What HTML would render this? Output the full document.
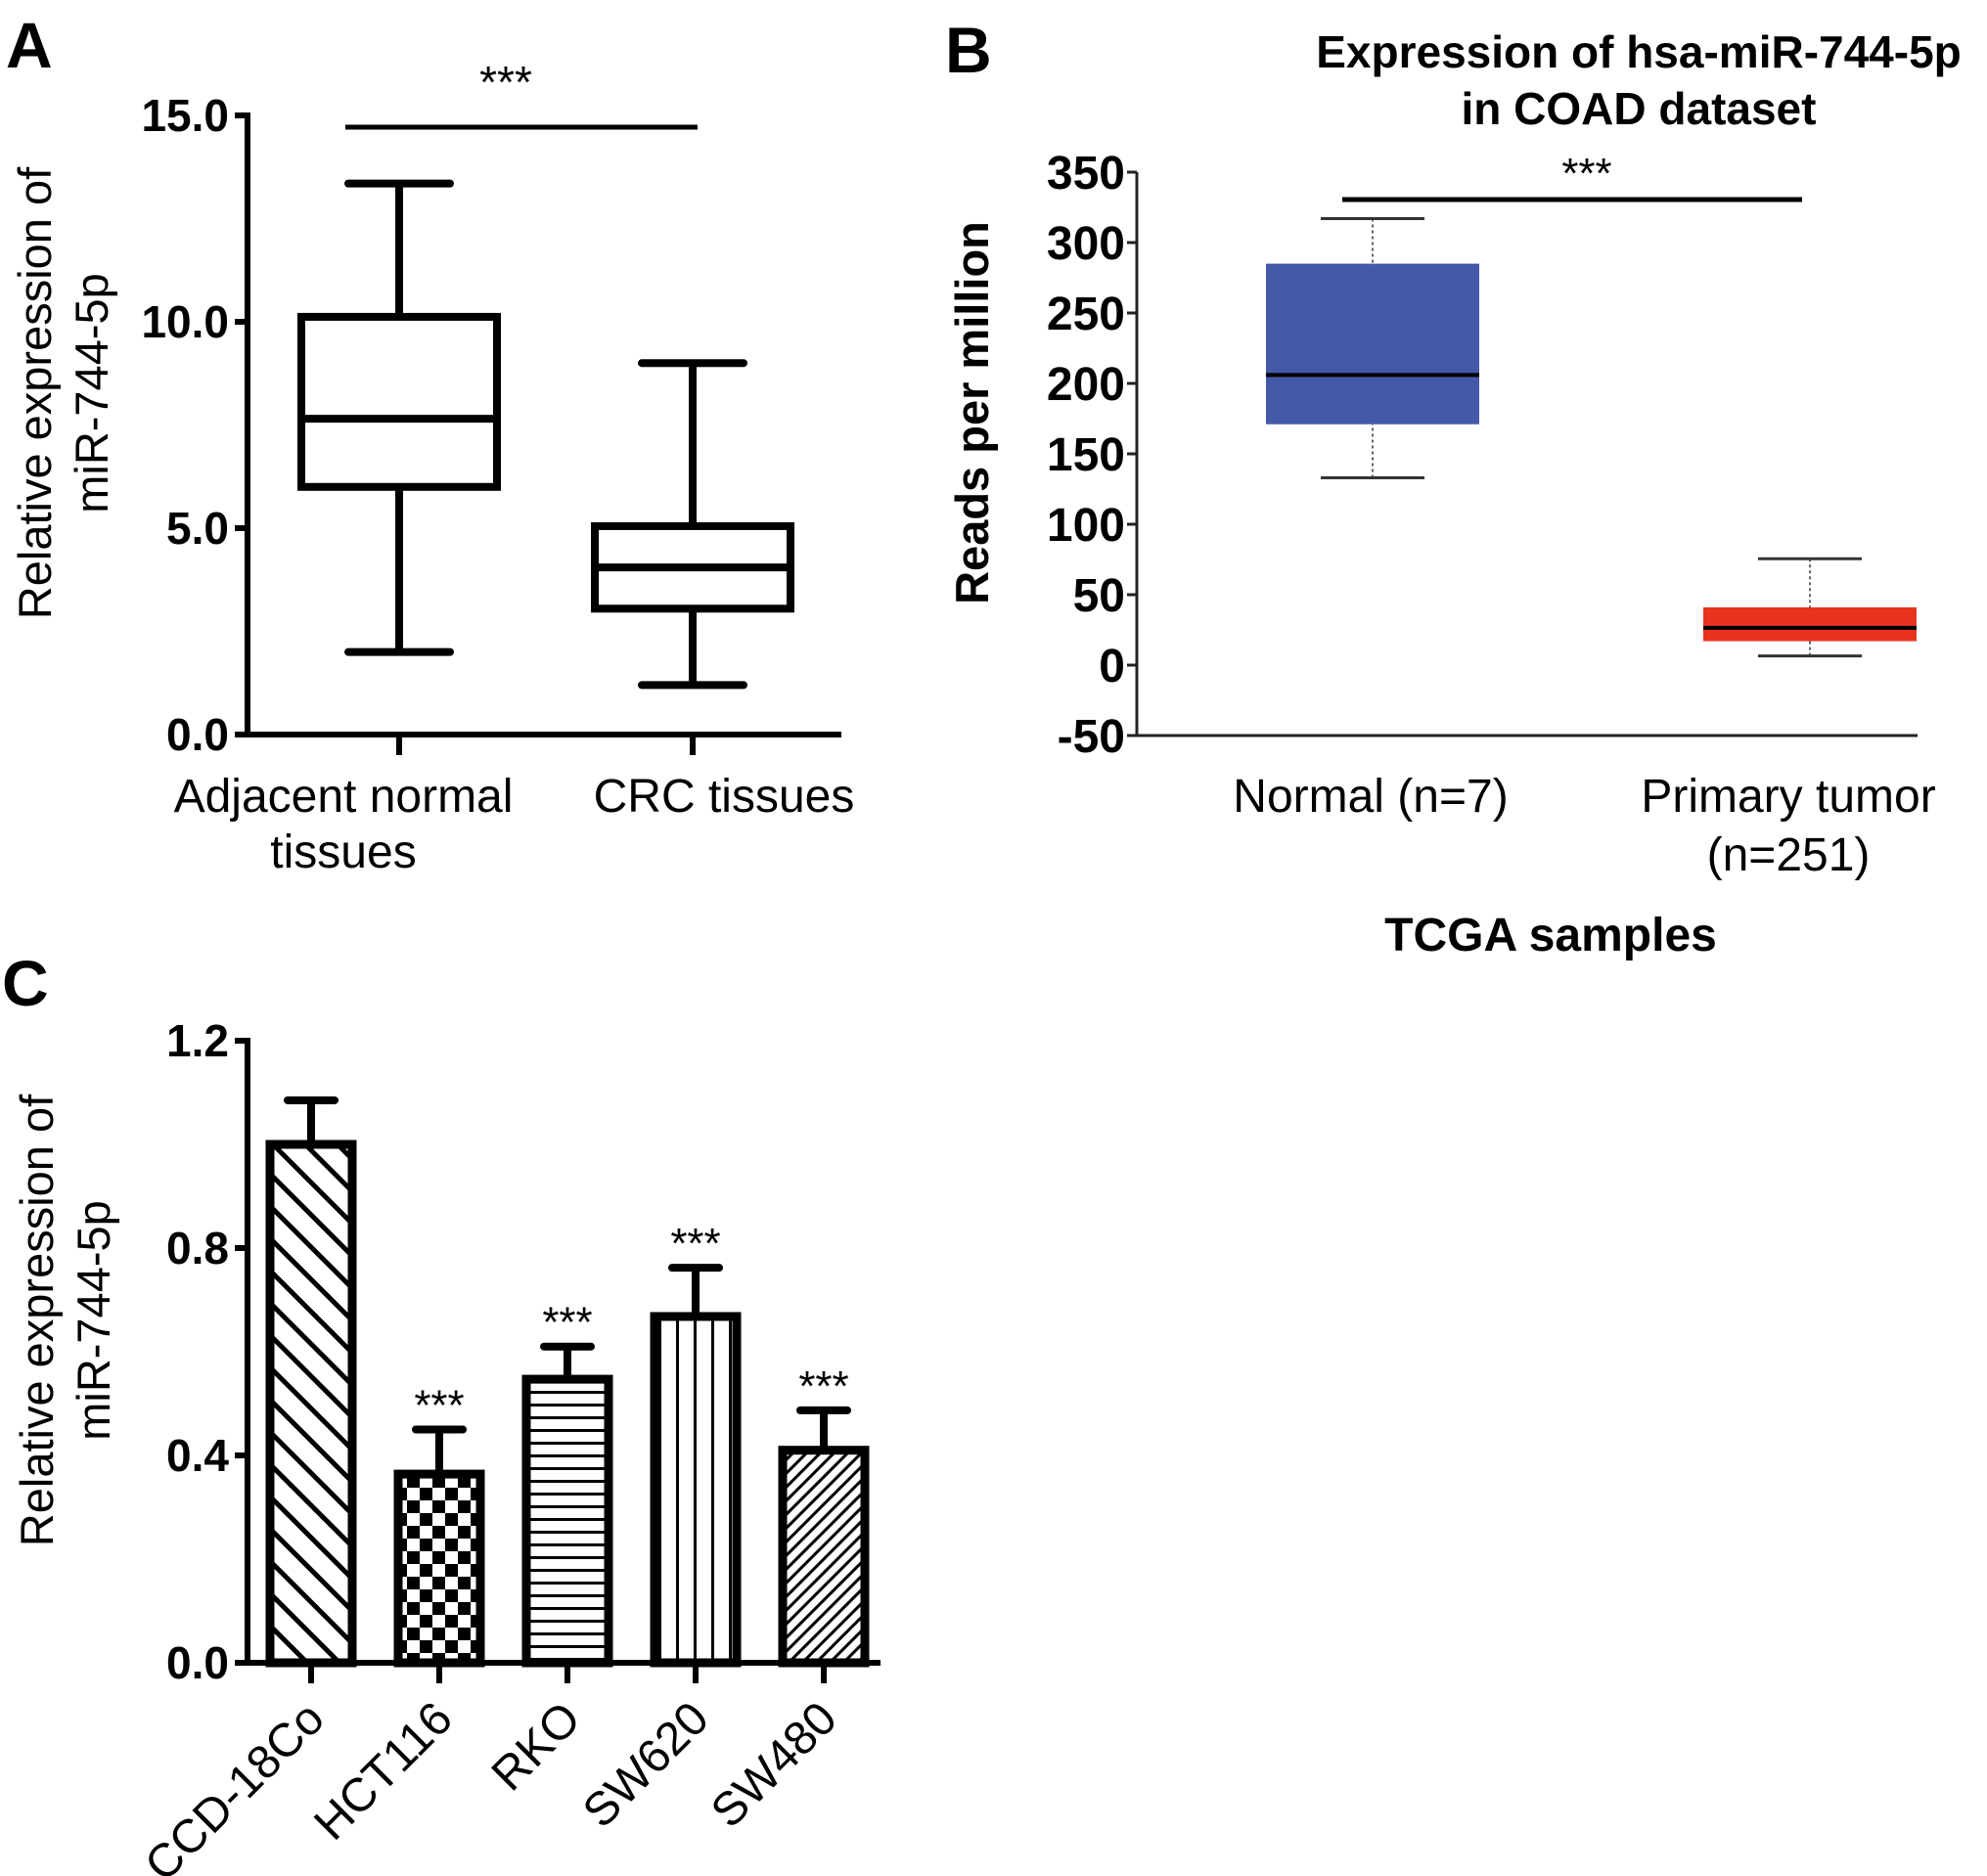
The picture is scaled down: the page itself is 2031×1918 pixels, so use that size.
<!DOCTYPE html>
<html><head><meta charset="utf-8"><style>
html,body{margin:0;padding:0;background:#fff;}
svg{display:block;font-family:"Liberation Sans",Arial,sans-serif;}
</style></head><body>
<svg id="fig" width="2031" height="1918" viewBox="0 0 2031 1918" xmlns="http://www.w3.org/2000/svg">
<defs>
<pattern id="pBack" patternUnits="userSpaceOnUse" width="33" height="33"><path d="M-5,-5 L38,38 M-5,28 L5,38 M28,-5 L38,5" stroke="#000" stroke-width="5"/></pattern>
<pattern id="pCheck" patternUnits="userSpaceOnUse" width="26" height="26"><rect x="0" y="0" width="13" height="13" fill="#000"/><rect x="13" y="13" width="13" height="13" fill="#000"/></pattern>
<pattern id="pHoriz" patternUnits="userSpaceOnUse" width="13" height="13"><rect x="0" y="5" width="13" height="3" fill="#000"/></pattern>
<pattern id="pVert" patternUnits="userSpaceOnUse" width="18" height="18"><rect x="7" y="0" width="3" height="18" fill="#000"/></pattern>
<pattern id="pSlash" patternUnits="userSpaceOnUse" width="14" height="14"><path d="M-3,17 L17,-3 M-3,3 L3,-3 M11,17 L17,11" stroke="#000" stroke-width="3"/></pattern>
</defs>
<g id="panelA"></g>
<g id="panelB"></g>
<g id="panelC"></g>
</svg>
<script>
// ---- Panel A data ----
const aCategories = ["Adjacent normal|tissues", "CRC tissues"];
const aMin = [2.0, 1.2];
const aQ1 = [6.0, 3.05];
const aMedian = [7.65, 4.05];
const aQ3 = [10.12, 5.05];
const aMax = [13.35, 9.0];
const aTicks = [0, 5, 10, 15];
const aTickLabels = ["0.0", "5.0", "10.0", "15.0"];
// ---- Panel B data ----
const bCategories = ["Normal (n=7)", "Primary tumor|(n=251)"];
const bMin = [133, 6.5];
const bQ1 = [171, 17];
const bMedian = [206, 26.5];
const bQ3 = [285, 41];
const bMax = [317, 75.5];
const bColors = ["#4459a8", "#e8331e"];
const bTicks = [-50, 0, 50, 100, 150, 200, 250, 300, 350];
// ---- Panel C data ----
const cCategories = ["CCD-18Co", "HCT116", "RKO", "SW620", "SW480"];
const cValues = [1.0, 0.364, 0.547, 0.668, 0.41];
const cErrors = [0.085, 0.086, 0.063, 0.094, 0.077];
const cSig = ["", "***", "***", "***", "***"];
const cPatterns = ["pBack", "pCheck", "pHoriz", "pVert", "pSlash"];
const cTicks = [0, 0.4, 0.8, 1.2];
const cTickLabels = ["0.0", "0.4", "0.8", "1.2"];

const NS = "http://www.w3.org/2000/svg";
function mk(parent, tag, attrs, text) {
  const e = document.createElementNS(NS, tag);
  for (const k in attrs) e.setAttribute(k, attrs[k]);
  if (text !== undefined) e.textContent = text;
  parent.appendChild(e);
  return e;
}

// ===== Panel A =====
(function(){
  const g = document.getElementById("panelA");
  const y = v => 751 - v * 42.2;
  const xs = [408, 708];
  const L = mk(g, "text", {x: 6, y: 69, "font-size": 66, "font-weight": "bold"}, "A");
  
  
  const ya = mk(g, "line", {x1: 253, y1: y(15) - 3, x2: 253, y2: 754, stroke: "#000", "stroke-width": 6});
  
  
  const xa = mk(g, "line", {x1: 250, y1: 751, x2: 860, y2: 751, stroke: "#000", "stroke-width": 6});
  
  
  aTicks.forEach((t, i) => {
    mk(g, "line", {x1: 240, y1: y(t), x2: 253, y2: y(t), stroke: "#000", "stroke-width": 6});
    const tl = mk(g, "text", {x: 234, y: y(t) + 16, "font-size": 46, "font-weight": "bold", "text-anchor": "end"}, aTickLabels[i]);
    
    
  });
  const yt = mk(g, "text", {transform: "translate(52,402) rotate(-90)", "font-size": 47, "text-anchor": "middle"});
  
  
  mk(yt, "tspan", {x: 0, y: 0}, "Relative expression of");
  mk(yt, "tspan", {x: 0, y: 58}, "miR-744-5p");
  aCategories.forEach((c, i) => {
    const x = xs[i];
    mk(g, "line", {x1: x, y1: 751, x2: x, y2: 772, stroke: "#000", "stroke-width": 6});
    const parts = c.split("|");
    parts.forEach((p, j) => {
      const t = mk(g, "text", {x: i === 0 ? 351 : 740, y: 830 + j * 57, "font-size": 48, "text-anchor": "middle"}, p);
      
      
    });
    const bg = mk(g, "g", {stroke: "#000", "stroke-width": 8, fill: "none"});
    
    
    mk(bg, "line", {x1: x, y1: y(aMax[i]), x2: x, y2: y(aQ3[i])});
    mk(bg, "line", {x1: x, y1: y(aMin[i]), x2: x, y2: y(aQ1[i])});
    mk(bg, "line", {x1: x - 52, y1: y(aMax[i]), x2: x + 52, y2: y(aMax[i]), "stroke-linecap": "round"});
    mk(bg, "line", {x1: x - 52, y1: y(aMin[i]), x2: x + 52, y2: y(aMin[i]), "stroke-linecap": "round"});
    mk(bg, "rect", {x: x - 100, y: y(aQ3[i]), width: 200, height: y(aQ1[i]) - y(aQ3[i])});
    mk(bg, "line", {x1: x - 100, y1: y(aMedian[i]), x2: x + 100, y2: y(aMedian[i])});
  });
  const s = mk(g, "line", {x1: 353, y1: 130, x2: 713, y2: 130, stroke: "#000", "stroke-width": 5});
  
  
  const st = mk(g, "text", {x: 517, y: 100, "font-size": 46, "text-anchor": "middle"}, "***");
  
  
})();

// ===== Panel B =====
(function(){
  const g = document.getElementById("panelB");
  const y = v => 680 - v * 1.44;
  const xs = [1403, 1850];
  const L = mk(g, "text", {x: 966, y: 74, "font-size": 66, "font-weight": "bold"}, "B");
  
  
  const t1 = mk(g, "text", {x: 1675, y: 69, "font-size": 46, "font-weight": "bold", "text-anchor": "middle"}, "Expression of hsa-miR-744-5p");
  
  
  const t2 = mk(g, "text", {x: 1675, y: 127, "font-size": 46, "font-weight": "bold", "text-anchor": "middle"}, "in COAD dataset");
  
  
  const ya = mk(g, "line", {x1: 1162, y1: y(350), x2: 1162, y2: y(-50), stroke: "#222", "stroke-width": 3});
  
  
  const xa = mk(g, "line", {x1: 1162, y1: y(-50), x2: 1960, y2: y(-50), stroke: "#222", "stroke-width": 3});
  
  
  bTicks.forEach(t => {
    mk(g, "line", {x1: 1152, y1: y(t), x2: 1162, y2: y(t), stroke: "#222", "stroke-width": 3});
    const tl = mk(g, "text", {x: 1150, y: y(t) + 17, "font-size": 48, "font-weight": "bold", "text-anchor": "end"}, String(t));
    
    
  });
  const yt = mk(g, "text", {transform: "translate(1010,422) rotate(-90)", "font-size": 47, "font-weight": "bold", "text-anchor": "middle"}, "Reads per million");
  
  
  bCategories.forEach((c, i) => {
    const x = xs[i];
    const bg = mk(g, "g", {});
    
    
    mk(bg, "line", {x1: x, y1: y(bMax[i]), x2: x, y2: y(bQ3[i]), stroke: "#666", "stroke-width": 2, "stroke-dasharray": "3,3"});
    mk(bg, "line", {x1: x, y1: y(bMin[i]), x2: x, y2: y(bQ1[i]), stroke: "#666", "stroke-width": 2, "stroke-dasharray": "3,3"});
    mk(bg, "line", {x1: x - 53, y1: y(bMax[i]), x2: x + 53, y2: y(bMax[i]), stroke: "#333", "stroke-width": 3});
    mk(bg, "line", {x1: x - 53, y1: y(bMin[i]), x2: x + 53, y2: y(bMin[i]), stroke: "#333", "stroke-width": 3});
    mk(bg, "rect", {x: x - 109, y: y(bQ3[i]), width: 218, height: y(bQ1[i]) - y(bQ3[i]), fill: bColors[i]});
    mk(bg, "line", {x1: x - 109, y1: y(bMedian[i]), x2: x + 109, y2: y(bMedian[i]), stroke: "#000", "stroke-width": 4});
    c.split("|").forEach((p, j) => {
      const t = mk(g, "text", {x: i === 0 ? 1401 : 1828, y: 830 + j * 60, "font-size": 48, "text-anchor": "middle"}, p);
      
      
    });
  });
  const xt = mk(g, "text", {x: 1585, y: 972, "font-size": 48, "font-weight": "bold", "text-anchor": "middle"}, "TCGA samples");
  
  
  const s = mk(g, "line", {x1: 1372, y1: 204, x2: 1842, y2: 204, stroke: "#000", "stroke-width": 5});
  
  
  const st = mk(g, "text", {x: 1622, y: 192, "font-size": 44, "text-anchor": "middle"}, "***");
  
  
})();

// ===== Panel C =====
(function(){
  const g = document.getElementById("panelC");
  const y = v => 1700 - v * 530;
  const x = i => 318 + i * 131;
  const L = mk(g, "text", {x: 2, y: 1028, "font-size": 66, "font-weight": "bold"}, "C");
  
  
  const ya = mk(g, "line", {x1: 253, y1: y(1.2) - 3, x2: 253, y2: 1703, stroke: "#000", "stroke-width": 6});
  
  
  const xa = mk(g, "line", {x1: 250, y1: 1700, x2: 900, y2: 1700, stroke: "#000", "stroke-width": 6});
  
  
  cTicks.forEach((t, i) => {
    mk(g, "line", {x1: 240, y1: y(t), x2: 253, y2: y(t), stroke: "#000", "stroke-width": 6});
    const tl = mk(g, "text", {x: 234, y: y(t) + 16, "font-size": 46, "font-weight": "bold", "text-anchor": "end"}, cTickLabels[i]);
    
    
  });
  const yt = mk(g, "text", {transform: "translate(54,1350) rotate(-90)", "font-size": 47, "text-anchor": "middle"});
  
  
  mk(yt, "tspan", {x: 0, y: 0}, "Relative expression of");
  mk(yt, "tspan", {x: 0, y: 58}, "miR-744-5p");
  cCategories.forEach((c, i) => {
    const cx = x(i);
    const top = y(cValues[i]);
    const et = y(cValues[i] + cErrors[i]);
    const eg = mk(g, "g", {stroke: "#000", "stroke-width": 8});
    
    
    mk(eg, "line", {x1: cx, y1: top, x2: cx, y2: et});
    mk(eg, "line", {x1: cx - 24, y1: et, x2: cx + 24, y2: et, "stroke-linecap": "round"});
    const b = mk(g, "rect", {x: cx - 42, y: top, width: 84, height: 1700 - top, fill: "url(#" + cPatterns[i] + ")", stroke: "#000", "stroke-width": 9});
    
    
    mk(g, "line", {x1: cx, y1: 1700, x2: cx, y2: 1721, stroke: "#000", "stroke-width": 6});
    if (cSig[i]) {
      const st = mk(g, "text", {x: cx, y: et - 10, "font-size": 44, "text-anchor": "middle"}, cSig[i]);
      
      
    }
    const lx = cx + 16, ly = 1760;
    const t = mk(g, "text", {x: lx, y: ly, "font-size": 48, "text-anchor": "end", transform: "rotate(-45 " + lx + " " + ly + ")"}, c);
    
    
  });
})();
</script>
</body></html>
